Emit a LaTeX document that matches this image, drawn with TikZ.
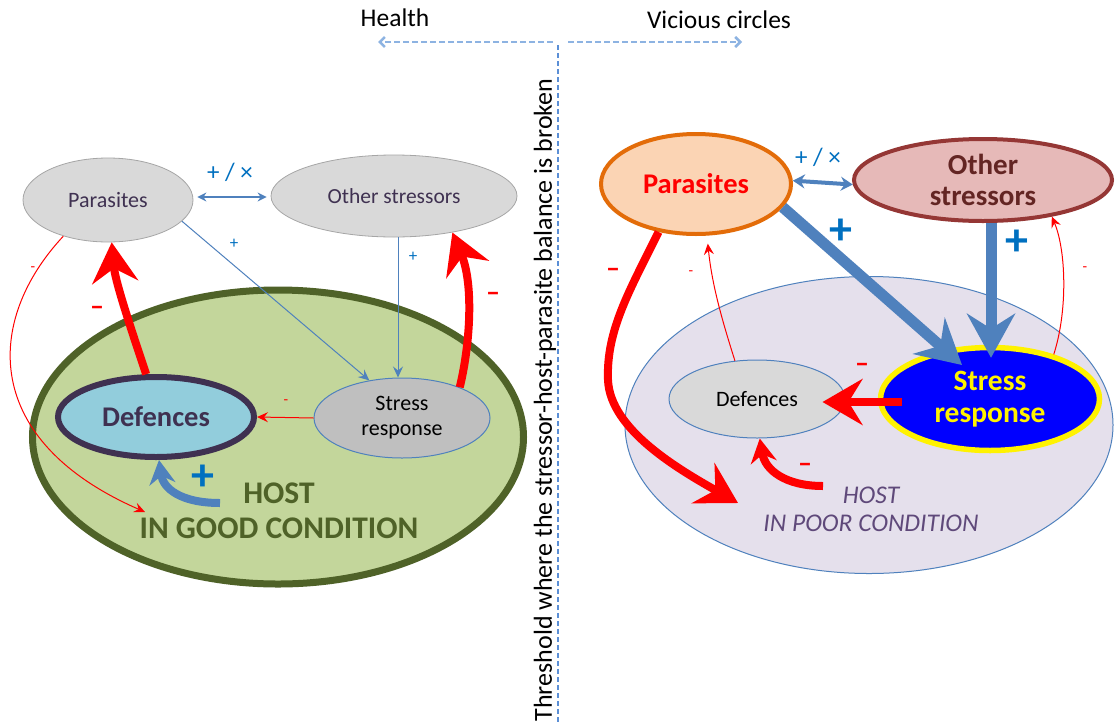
\documentclass[tikz,border=0pt]{standalone}
\usepackage{fontspec}
\setmainfont{Carlito}
\usetikzlibrary{arrows.meta,shapes.geometric,calc}
\definecolor{lblue}{HTML}{4F81BD}
\definecolor{tblue}{HTML}{0070C0}
\definecolor{dpurple}{HTML}{3F3151}
\definecolor{lgrey}{HTML}{D9D9D9}
\definecolor{mgrey}{HTML}{BFBFBF}
\definecolor{hgreen}{HTML}{C3D69B}
\definecolor{dgreen}{HTML}{4F6228}
\definecolor{defblue}{HTML}{92CDDC}
\definecolor{porange}{HTML}{FBD4B4}
\definecolor{dorange}{HTML}{E36C09}
\definecolor{opink}{HTML}{E6B9B8}
\definecolor{dred}{HTML}{953735}
\definecolor{ddred}{HTML}{632523}
\definecolor{hlav}{HTML}{E5E0EC}
\definecolor{ipurple}{HTML}{5F497A}
\definecolor{dashblue}{HTML}{5B8FD6}
\definecolor{arrblue}{HTML}{8DB3E2}
\tikzset{
  ell/.style={ellipse,inner sep=0pt,align=center},
  thinred/.style={draw=red,line width=1pt,-{Stealth[length=11pt,width=10pt,inset=4pt]}},
  thinblue/.style={draw=lblue,line width=1pt,-{Stealth[length=11pt,width=10pt,inset=4pt]}},
  bigred/.style={draw=red,line width=8pt,-{Stealth[length=40pt,width=46pt,inset=14pt]}},
  bigblue/.style={draw=lblue,line width=11pt,-{Stealth[length=44pt,width=48pt,inset=15pt]}},
  smallcurve/.style={line width=8pt,-{Stealth[length=24pt,width=26pt,inset=8pt]}},
  minus/.style={text=red,font=\fontsize{28}{28}\selectfont\bfseries},
  sminus/.style={text=red,font=\fontsize{15}{15}\selectfont},
  bplus/.style={text=tblue,font=\fontsize{46}{46}\selectfont\bfseries},
  splus/.style={text=tblue,font=\fontsize{17}{17}\selectfont},
  pluslab/.style={text=tblue,font=\fontsize{25}{25}\selectfont},
}
\begin{document}
\begin{tikzpicture}[x=1pt,y=-1pt]
\useasboundingbox (0,0) rectangle (1115,723);
\fill[white] (0,0) rectangle (1115,723);

% ---------- top and divider ----------
\node (health) at (395,18) {\fontsize{25.5}{25.5}\selectfont Health};
\node (vicious) at (719,20) {\fontsize{25.5}{25.5}\selectfont Vicious circles};
\coordinate (mid) at (558,42);
\coordinate (lend) at (378,42);
\coordinate (rend) at (742,42);
\coordinate (vtop) at (558,45);
\coordinate (vbot) at (558,723);
\draw[arrblue,line width=2.5pt,dash pattern=on 6pt off 3pt,-{Straight Barb[length=5pt,width=10pt]}] ([xshift=-5pt]mid) -- (lend);
\draw[arrblue,line width=2.5pt,dash pattern=on 6pt off 3pt,-{Straight Barb[length=5pt,width=10pt]}] ([xshift=10pt]mid) -- (rend);
\draw[dashblue,line width=2.8pt,dash pattern=on 5pt off 3pt] (vtop) -- (vbot);
\node[rotate=90] (thr) at (545,400) {\fontsize{26}{26}\selectfont Threshold where the stressor-host-parasite balance is broken};

% ---------- LEFT ----------
\node[ell,fill=hgreen,draw=dgreen,line width=7pt,minimum width=491pt,minimum height=294pt] (lhost) at (278,437) {};
\node[ell,fill=lgrey,draw=gray!70,line width=0.8pt,minimum width=170pt,minimum height=84pt,text=dpurple,font=\fontsize{22}{22}\selectfont] (lpar) at (108,200) {Parasites};
\node[ell,fill=lgrey,draw=gray!70,line width=0.8pt,minimum width=246pt,minimum height=82pt,text=dpurple,font=\fontsize{21.5}{21.5}\selectfont] (lot) at (394,196) {Other stressors};
\node[ell,fill=defblue,draw=dpurple,line width=6pt,minimum width=196pt,minimum height=80pt,text=dpurple,font=\fontsize{28.5}{28.5}\selectfont\bfseries] (ldef) at (156,417) {Defences};
\node[ell,fill=mgrey,draw=lblue,line width=1pt,minimum width=176pt,minimum height=80pt,font=\fontsize{22}{25}\selectfont] (lsr) at (402,418) {Stress\\response};
\node[text=dgreen,font=\fontsize{31.5}{35}\selectfont\bfseries,align=center] (lhosttxt) at (279,511) {HOST\\IN GOOD CONDITION};

\draw[draw=lblue,line width=1.2pt,{Stealth[length=9pt,width=9pt,inset=3pt]}-{Stealth[length=9pt,width=9pt,inset=3pt]}] ($(lpar.east)+(4,-3)$) -- ($(lot.west)+(-4,1)$);
\node[pluslab] (lpx) at (230,172) {+ / ×};
\draw[thinblue] (lpar.-16) -- (lsr.131);
\node[splus] (lp1) at (234,244) {+};
\draw[thinblue] ([xshift=4pt]lot.south) -- ([xshift=-4pt]lsr.north);
\node[splus] (lp2) at (413,257) {+};
\draw[thinred] (lsr.west) -- (ldef.east);
\node[sminus] (lm1) at (286,402) {-};
\coordinate (lcurveend) at (145,512);
\draw[thinred] (lpar.219) .. controls (-15,320) and (-20,440) .. (lcurveend);
\node[sminus] (lm2) at (33,269) {-};
\draw[bigred] (ldef.103) .. controls (128,320) and (115,280) .. (lpar.275);
\node[minus] (lm3) at (97,311) {–};
\draw[bigred] (lsr.28) .. controls (470,345) and (474,285) .. (lot.-32);
\node[minus] (lm4) at (493,297) {–};
\coordinate (lblueTail) at (220,503);
\draw[smallcurve,draw=lblue] (lblueTail) .. controls (180,503) and (163,488) .. (ldef.-86);
\node[bplus] (lp3) at (203,478) {+};

% ---------- RIGHT ----------
\node[ell,fill=hlav,draw=lblue,line width=1pt,minimum width=488pt,minimum height=297pt] (rhost) at (869,425) {};
\node[ell,fill=porange,draw=dorange,line width=4pt,minimum width=190pt,minimum height=100pt,text=red,font=\fontsize{28.5}{28.5}\selectfont\bfseries] (rpar) at (696,184) {Parasites};
\node[ell,fill=opink,draw=dred,line width=4pt,minimum width=258pt,minimum height=82pt,text=ddred,font=\fontsize{29}{31}\selectfont\bfseries] (rot) at (983,180) {Other\\stressors};
\node[ell,fill=lgrey,draw=lblue,line width=1pt,minimum width=176pt,minimum height=78pt,font=\fontsize{22}{22}\selectfont] (rdef) at (757,399) {Defences};
\node[ell,fill=blue,draw=yellow,line width=5.5pt,minimum width=219pt,minimum height=103pt,text=yellow,font=\fontsize{29.5}{32}\selectfont\bfseries] (rsr) at (990,399) {Stress\\response};
\node[text=ipurple,font=\fontsize{25.5}{28}\selectfont\itshape,align=center] (rhosttxt) at (871,509) {HOST\\IN POOR CONDITION};

\draw[draw=lblue,line width=4pt,{Stealth[length=12pt,width=14pt,inset=4pt]}-{Stealth[length=12pt,width=14pt,inset=4pt]}] (rpar.2) -- (rot.182);
\node[pluslab] (rpx) at (818,157) {+ / ×};
\draw[bigblue] (rpar.-15) -- ($(rsr.center)+(-28,-34)$);
\node[bplus] (rp1) at (841,232) {+};
\draw[bigblue] ([xshift=8pt]rot.south) -- ($(rsr.north)+(1,13)$);
\node[bplus] (rp2) at (1017,243) {+};
\draw[bigred] ($(rsr.west)+(24,3)$) -- ($(rdef.east)+(-23,3)$);
\node[minus] (rm1) at (862,368) {–};
\draw[thinred,shorten >=8pt] (rdef.120) .. controls (722,320) and (712,285) .. (rpar.-78);
\node[sminus] (rm2) at (691,273) {-};
\draw[thinred] (rsr.35) .. controls (1068,310) and (1066,250) .. (rot.-28);
\node[sminus] (rm3) at (1085,269) {-};
\coordinate (rmidc) at (608,380);
\coordinate (rbigend) at (738,503);
\draw[bigred] (rpar.232) .. controls (630,290) and (606,330) .. (rmidc) .. controls (610,430) and (680,470) .. (rbigend);
\node[minus] (rm4) at (613,273) {–};
\coordinate (rredTail) at (823,486);
\draw[smallcurve,draw=red] (rredTail) .. controls (785,486) and (765,470) .. (rdef.-86);
\node[minus] (rm5) at (805,468) {–};
\end{tikzpicture}
\end{document}
